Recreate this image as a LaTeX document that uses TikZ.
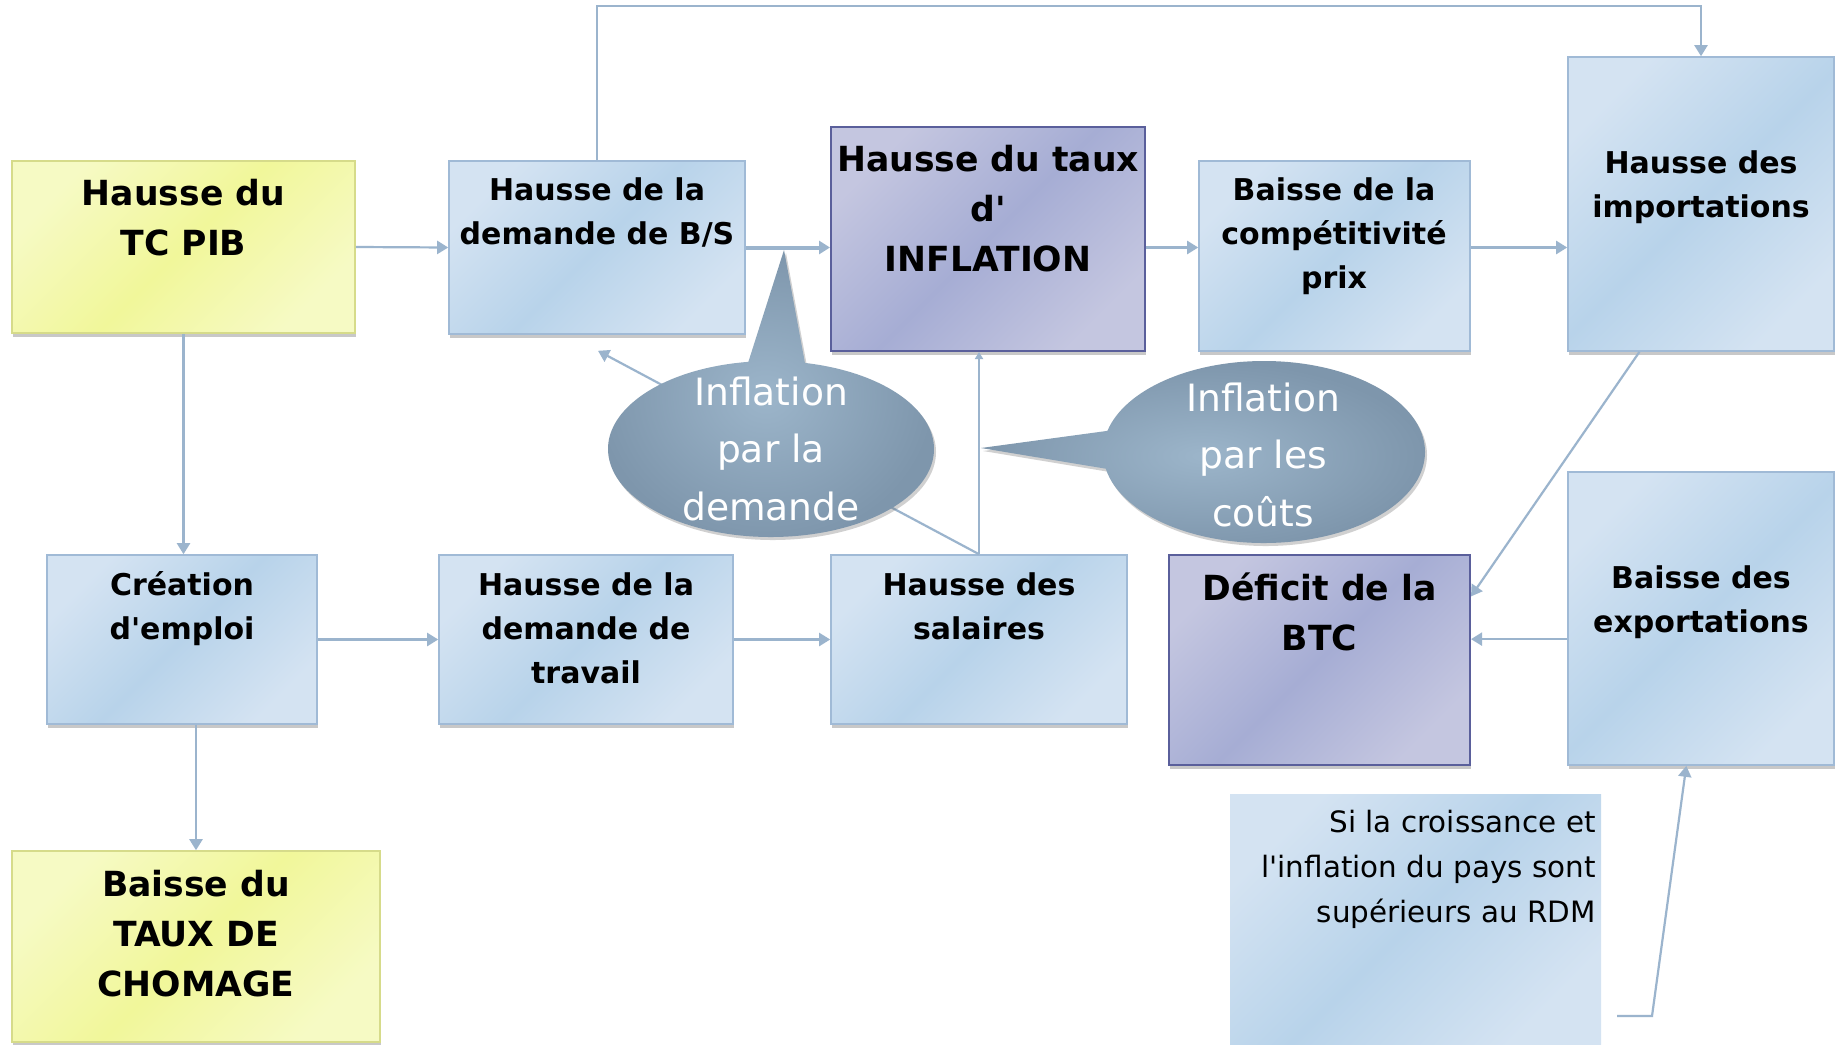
\documentclass[tikz,border=0pt]{standalone}
\usepackage{fontspec}
\setmainfont{DejaVu Sans}[Ligatures=TeXOff]
\usetikzlibrary{arrows.meta,shapes.callouts,shadows,fit,calc}
\definecolor{linec}{RGB}{155,180,205}
\definecolor{bluelt}{RGB}{212,227,242}
\definecolor{bluemid}{RGB}{184,211,234}
\definecolor{bluedraw}{RGB}{160,186,214}
\definecolor{purlt}{RGB}{196,198,224}
\definecolor{purmid}{RGB}{166,173,212}
\definecolor{purdraw}{RGB}{90,95,155}
\definecolor{yellt}{RGB}{246,250,196}
\definecolor{yelmid}{RGB}{241,247,154}
\definecolor{yeldraw}{RGB}{214,219,138}
\definecolor{bubin}{RGB}{156,181,202}
\definecolor{bubout}{RGB}{126,150,172}
\newcommand\bigbf{\fontsize{17.3}{25}\selectfont\bfseries}
\newcommand\medbf{\fontsize{15}{22}\selectfont\bfseries}
\newcommand\notefont{\fontsize{14.7}{22.5}\selectfont}
\newcommand\bubfont{\fontsize{18.8}{28.75}\selectfont}
\tikzset{
  boxshadow/.style={drop shadow={shadow xshift=0.6pt,shadow yshift=-1.8pt,opacity=0.3,fill=black!70}},
  bluebox/.style={draw=bluedraw,line width=0.8pt,inner sep=0pt,left color=bluelt,right color=bluelt,middle color=bluemid,shading angle=45,boxshadow},
  purbox/.style={draw=purdraw,line width=1pt,inner sep=0pt,left color=purlt,right color=purlt,middle color=purmid,shading angle=45,boxshadow},
  yelbox/.style={draw=yeldraw,line width=0.8pt,inner sep=0pt,left color=yellt,right color=yellt,middle color=yelmid,shading angle=45,boxshadow},
  notebox/.style={inner sep=0pt,left color=bluelt,right color=bluelt,middle color=bluemid,shading angle=45},
  bubble/.style={ellipse callout,inner sep=0pt,shading=radial,inner color=bubin,outer color=bubout,
    drop shadow={shadow xshift=1pt,shadow yshift=-1.5pt,opacity=0.3,fill=black!60}},
  bigtxt/.style={font=\bigbf,align=center,inner sep=0pt,anchor=base},
  medtxt/.style={font=\medbf,align=center,inner sep=0pt,anchor=base},
  bubtxt/.style={font=\bubfont,align=center,inner sep=0pt,anchor=base,text=white},
  conn/.style={draw=linec,line width=1.1pt,-{Triangle[width=6.5pt,length=5.5pt]}}
}
\begin{document}
\begin{tikzpicture}[x=0.5pt,y=-0.5pt]
\useasboundingbox (0,0) rectangle (1840,1044);
\fill[white] (0,0) rectangle (1840,1044);

% boxes
\node[yelbox,fit={(12,161)(355,333)}] (tc) {};
\node[bluebox,fit={(449,161)(745,334)}] (bs) {};
\node[purbox,fit={(831,127)(1145,351)}] (infl) {};
\node[bluebox,fit={(1199,161)(1470,351)}] (comp) {};
\node[bluebox,fit={(1568,57)(1834,351)}] (imp) {};
\node[bluebox,fit={(47,555)(317,724)}] (cre) {};
\node[bluebox,fit={(439,555)(733,724)}] (trav) {};
\node[bluebox,fit={(831,555)(1127,724)}] (sal) {};
\node[purbox,fit={(1169,555)(1470,765)}] (def) {};
\node[bluebox,fit={(1568,472)(1834,765)}] (exp) {};
\node[yelbox,fit={(12,851)(380,1042)}] (chom) {};
\node[notebox,fit={(1230,794)(1601,1044)}] (note) {};

% connectors
\coordinate (top) at (0,6);
\draw[conn] (tc.east) -- (bs.west);
\draw[conn,line width=2pt] (bs.east) -- (bs.east -| infl.west);
\draw[conn] (bs.east -| infl.east) -- (bs.east -| comp.west);
\draw[conn] (bs.east -| comp.east) -- (bs.east -| imp.west);
\draw[conn] (bs.north) -- (bs.north |- top) -- (imp.north |- top) -- (imp.north);
\draw[conn] (tc.south) -- (tc.south |- cre.north);
\draw[conn] (cre.east) -- (trav.west);
\draw[conn] (trav.east) -- (sal.west);
\draw[conn] (chom.north |- cre.south) -- (chom.north);
\draw[conn,-{Triangle[width=4pt,length=3.5pt]}] (sal.north) -- (sal.north |- infl.south);
\draw[conn] (sal.north) -- ($(bs.south)+(1,16)$);
\draw[conn] ($(imp.south west)!0.27!(imp.south east)$) -- ($(def.north east)!0.2!(def.south east)$);
\draw[conn] ($(exp.north west)!0.57!(exp.south west)$) coordinate (e1) -- (e1 -| def.east);
\coordinate (nb) at (1617,1016);
\draw[conn] (nb) -- ++(35,0) -- ($(exp.south west)!0.445!(exp.south east)$);

% bubbles
\node[bubble,minimum width=163pt,minimum height=88pt,callout absolute pointer={(784,250)},callout pointer arc=20] (b1) at (771,449) {};
\node[bubble,minimum width=161pt,minimum height=91pt,callout absolute pointer={(981,448)},callout pointer arc=24] (b2) at (1264,452) {};

% texts (anchor = baseline of last line)
\node[bigtxt] (ttc) at (183.5,255.5) {Hausse du\\TC PIB};
\node[medtxt] (tbs) at (597,244) {Hausse de la\\demande de B/S};
\node[bigtxt] (tinfl) at (988,271) {Hausse du taux\\d'\\INFLATION};
\node[medtxt] (tcomp) at (1334,288) {Baisse de la\\compétitivité\\prix};
\node[medtxt] (timp) at (1701,217) {Hausse des\\importations};
\node[medtxt] (tcre) at (182,639) {Création\\d'emploi};
\node[medtxt] (ttrav) at (586,683) {Hausse de la\\demande de\\travail};
\node[medtxt] (tsal) at (979,639) {Hausse des\\salaires};
\node[bigtxt] (tdef) at (1319.5,650) {Déficit de la\\BTC};
\node[medtxt] (texp) at (1701,632) {Baisse des\\exportations};
\node[bigtxt] (tchom) at (196,996) {Baisse du\\TAUX DE\\CHOMAGE};
\node[font=\notefont,align=right,inner sep=0pt,anchor=base east] (tnote) at (1596,922) {Si la croissance et\\l'inflation du pays sont\\supérieurs au RDM};
\node[bubtxt] (tb1) at (771,520) {Inflation\\par la\\demande};
\node[bubtxt] (tb2) at (1263,526) {Inflation\\par les\\coûts};
\end{tikzpicture}
\end{document}
